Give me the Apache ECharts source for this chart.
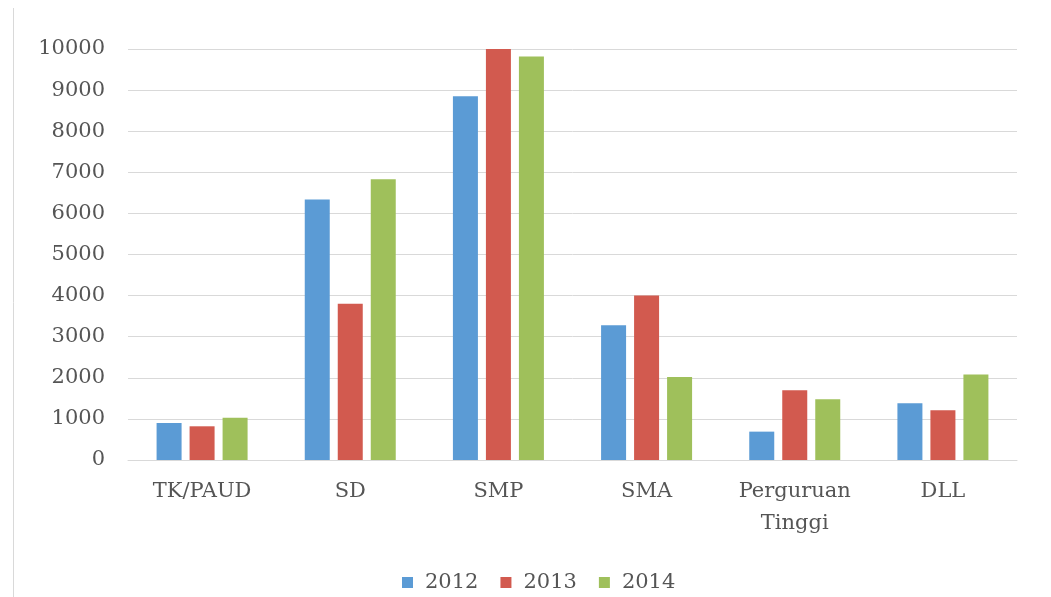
<!DOCTYPE html>
<html>
<head>
<meta charset="utf-8">
<title>Jumlah per jenjang pendidikan 2012-2014</title>
<script src="https://cdn.jsdelivr.net/npm/echarts@6/dist/echarts.min.js"></script>
<style>
  html, body { margin: 0; padding: 0; background: #fff; }
  #chart { width: 1051px; height: 597px; }
</style>
</head>
<body>
<div id="chart"></div>
<script>
const categories = ["TK/PAUD", "SD", "SMP", "SMA", "Perguruan\nTinggi", "DLL"];
const years = ["2012", "2013", "2014"];
const data2012 = [900, 6340, 8850, 3280, 690, 1380];
const data2013 = [820, 3800, 10000, 4000, 1700, 1210];
const data2014 = [1030, 6830, 9820, 2020, 1480, 2080];
const yTicks = { min: 0, max: 10000, interval: 1000 };

const colors = ["#5b9bd5", "#d25a4f", "#9fc05b"];
const font = "'DejaVu Serif', serif";
const textColor = "#555555";

const chart = echarts.init(document.getElementById("chart"));

const option = {
  animation: false,
  color: colors,
  textStyle: { fontFamily: font },
  // thin frame line on the left, like the screenshot edge
  graphic: [
    {
      type: "line",
      shape: { x1: 13.5, y1: 8, x2: 13.5, y2: 597 },
      style: { stroke: "#d9d9d9", lineWidth: 1 },
    },
  ],
  grid: {
    left: 128,
    right: 34,
    top: 49,
    bottom: 137,
  },
  legend: {
    data: years,
    bottom: -1,
    left: 397,
    itemWidth: 11,
    itemHeight: 11,
    itemGap: 22,
    icon: "rect",
    textStyle: { fontFamily: font, fontSize: 21, color: textColor, padding: [0, 0, 0, 7] },
  },
  xAxis: {
    type: "category",
    data: categories,
    axisLine: { lineStyle: { color: "#d9d9d9" } },
    axisTick: { show: false },
    axisLabel: {
      fontFamily: font,
      fontSize: 21,
      color: textColor,
      margin: 16,
      lineHeight: 32,
      interval: 0,
    },
  },
  yAxis: {
    type: "value",
    min: yTicks.min,
    max: yTicks.max,
    interval: yTicks.interval,
    axisLine: { show: false },
    axisTick: { show: false },
    splitLine: { lineStyle: { color: "#d9d9d9" } },
    axisLabel: {
      fontFamily: font,
      fontSize: 21,
      color: textColor,
      margin: 23,
      formatter: (v) => String(v),
    },
  },
  series: [
    { name: years[0], type: "bar", data: data2012, barWidth: 25, barGap: "32%" },
    { name: years[1], type: "bar", data: data2013, barWidth: 25, barGap: "32%" },
    { name: years[2], type: "bar", data: data2014, barWidth: 25, barGap: "32%" },
  ],
};

chart.setOption(option);
</script>
</body>
</html>
